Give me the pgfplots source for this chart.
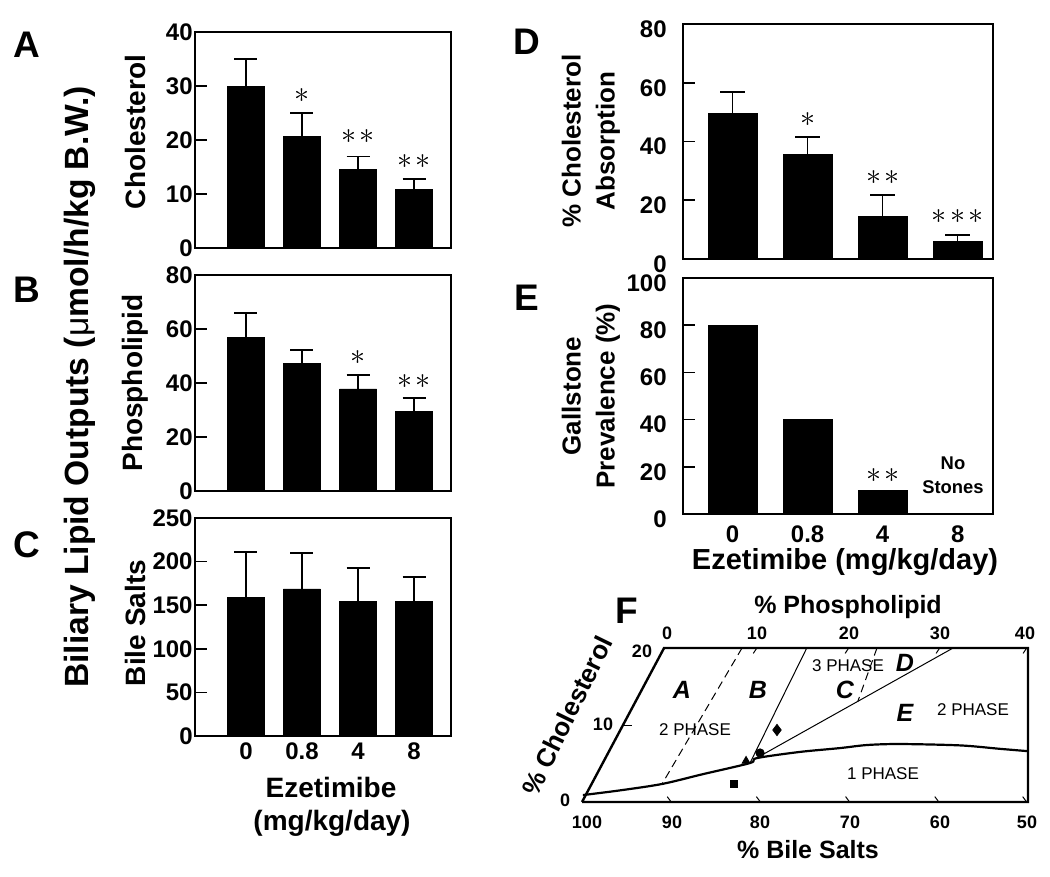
\documentclass[border=0pt]{standalone}
\usepackage{pgfplots}
\pgfplotsset{compat=1.18}
\usepackage{fontspec}
\setmainfont{Liberation Sans}
\newcommand{\st}{\scalebox{1.5}{$\mathord{\ast}$}}
\newcommand{\stt}{\scalebox{1.5}{$\mathord{\ast}\mkern2mu\mathord{\ast}$}}
\newcommand{\sttt}{\scalebox{1.5}{$\mathord{\ast}\mkern2mu\mathord{\ast}\mkern2mu\mathord{\ast}$}}
\begin{document}
\begin{tikzpicture}
\useasboundingbox (0,0) rectangle (525pt,-438.5pt);
\tikzset{star/.style={font=\fontsize{10}{10}\selectfont, inner sep=0pt}}
\pgfplotsset{
  barpanel/.style={
    scale only axis, anchor=south west,
    ybar, bar width=18.5pt, ymin=0,
    xmin=-0.91, xmax=3.66,
    xtick={0,1,2,3}, xticklabels={},
    x tick style={draw=none},
    ytick pos=left, tick align=inside,
    major tick length=6pt,
    y tick style={line width=0.8pt, black},
    axis line style={line width=0.8pt},
    tick label style={font=\fontsize{12}{14}\selectfont\bfseries},
    /pgf/number format/assume math mode=true,
    yticklabel style={inner sep=1pt},
    clip=false,
    error bars/y dir=plus, error bars/y explicit,
    error bars/error mark=|,
    error bars/error bar style={line width=0.7pt, black},
    error bars/error mark options={mark size=5.75pt, line width=0.7pt, black},
  },
}
% ---------- Panel A ----------
\begin{axis}[barpanel, at={(97.5pt,-124pt)}, width=128pt, height=108pt, ymax=40, ytick={0,10,20,30,40}]
\addplot[fill=black, draw=black] coordinates {(0,30.0) +- (0,5.0) (1,20.6) +- (0,4.4) (2,14.6) +- (0,2.3) (3,10.9) +- (0,1.9)};
\node[star] at (axis cs:1,28.3) {\st};
\node[star] at (axis cs:2,20.6) {\stt};
\node[star] at (axis cs:3,16.1) {\stt};
\end{axis}
% ---------- Panel B ----------
\begin{axis}[barpanel, at={(97.5pt,-245.5pt)}, width=128pt, height=108pt, ymax=80, ytick={0,20,40,60,80}]
\addplot[fill=black, draw=black] coordinates {(0,57.0) +- (0,8.9) (1,47.4) +- (0,4.8) (2,37.8) +- (0,5.2) (3,29.6) +- (0,4.8)};
\node[star] at (axis cs:2,49.6) {\st};
\node[star] at (axis cs:3,40.7) {\stt};
\end{axis}
% ---------- Panel C ----------
\begin{axis}[barpanel, at={(97.5pt,-368pt)}, width=128pt, height=109pt, ymax=250, ytick={0,50,100,150,200,250}, xticklabels={0,0.8,4,8}]
\addplot[fill=black, draw=black] coordinates {(0,159.4) +- (0,51.6) (1,168.6) +- (0,41.3) (2,154.8) +- (0,37.9) (3,154.8) +- (0,27.5)};
\end{axis}
% ---------- Panel D ----------
\begin{axis}[barpanel, at={(341.5pt,-129.5pt)}, width=155pt, height=117.5pt, xmin=-0.66, xmax=3.47, bar width=24.5pt, ymax=80, ytick={0,20,40,60,80},
  yticklabel style={inner sep=1pt, xshift=-7pt, yshift=-2.5pt},
  error bars/error mark options={mark size=6.25pt, line width=0.7pt, black}]
\addplot[fill=black, draw=black] coordinates {(0,49.7) +- (0,7.1) (1,35.7) +- (0,5.8) (2,14.6) +- (0,7.2) (3,6.1) +- (0,2.1)};
\node[star] at (axis cs:1,47.6) {\st};
\node[star] at (axis cs:2,27.9) {\stt};
\node[star] at (axis cs:3,14.6) {\sttt};
\end{axis}
% ---------- Panel E ----------
\begin{axis}[barpanel, at={(341.5pt,-257pt)}, width=155pt, height=118pt, xmin=-0.66, xmax=3.47, bar width=24.5pt, ymax=100, ytick={0,20,40,60,80,100},
  yticklabel style={inner sep=1pt, xshift=-7pt, yshift=-2.5pt}, xticklabel style={yshift=-2.5pt}, xticklabels={0,0.8,4,8}]
\addplot[fill=black, draw=black] coordinates {(0,80) (1,40) (2,10)};
\node[star] at (axis cs:2,16.1) {\stt};
\end{axis}
% ---------- Panel F ----------
\begin{axis}[at={(291pt,-401pt)}, anchor=south west, scale only axis, width=223pt, height=77pt,
  xmin=0, xmax=50, ymin=0, ymax=20, hide axis, clip=false]
\addplot[black, line width=1.2pt, line join=miter] coordinates {(0,0) (50,0) (50,20) (9.2,20) (0,0)};
\addplot[black, line width=1.1pt, smooth, tension=0.5] coordinates {(0.1,0.9) (4.2,1.5) (8.97,2.34) (13.5,3.6) (18.83,5.06) (19.6,5.7) (24.4,6.5) (28.9,7.0) (31.95,7.4) (35.65,7.53) (42.4,7.35) (46.9,6.9) (50,6.6)};
\addplot[black, line width=0.5pt, dash pattern=on 4pt off 2.5pt] coordinates {(17.94,20) (8.97,2.34)};
\addplot[black, line width=0.5pt] coordinates {(25.2,20) (18.83,5.06)};
\addplot[black, line width=0.5pt] coordinates {(19.4,5.6) (41.6,20)};
\addplot[black, line width=0.5pt, dash pattern=on 4pt off 2.5pt] coordinates {(33.07,20) (30.9,13.0)};
\addplot[black, line width=0.5pt] coordinates {(10,0) (9.55,0.7)};
\addplot[black, line width=0.5pt] coordinates {(20,0) (19.55,0.7)};
\addplot[black, line width=0.5pt] coordinates {(30,0) (29.55,0.7)};
\addplot[black, line width=0.5pt] coordinates {(40,0) (39.55,0.7)};
\addplot[black, line width=0.5pt] coordinates {(49.85,0) (49.4,0.7)};
\addplot[black, line width=0.5pt] coordinates {(19.6,20) (19.2,19.3)};
\addplot[black, line width=0.5pt] coordinates {(29.9,20) (29.5,19.3)};
\addplot[black, line width=0.5pt] coordinates {(40.1,20) (39.7,19.3)};
\addplot[black, line width=0.5pt] coordinates {(49.85,20) (49.45,19.3)};
\addplot[black, line width=0.5pt] coordinates {(4.6,10) (5.6,10)};
\addplot[only marks, mark=square*, mark size=1.8pt, black] coordinates {(17.04,2.34)};
\addplot[only marks, mark=triangle*, mark size=2.3pt, black] coordinates {(18.39,5.32)};
\addplot[only marks, mark=*, mark size=2.1pt, black] coordinates {(19.96,6.36)};
\addplot[only marks, mark=diamond*, mark size=2.8pt, black] coordinates {(21.86,9.35)};
\end{axis}
% ---------- Texts ----------
\begin{scope}[x=0.5pt, y=-0.5pt]
\tikzset{lab/.style={font=\fontsize{18.5}{18.5}\selectfont\bfseries, inner sep=0pt}}
\node[lab] at (27,45) {A};
\node[lab] at (27,290) {B};
\node[lab] at (27,545) {C};
\node[lab] at (527,42) {D};
\node[lab] at (527,298) {E};
\node[lab] at (627,611) {F};
\tikzset{yl/.style={font=\fontsize{14}{14}\selectfont\bfseries, rotate=90, inner sep=0pt}}
\node[yl] at (135,132) {Cholesterol};
\node[yl] at (135,383) {Phospholipid};
\node[yl] at (135,623) {Bile Salts};
\node[font=\fontsize{16.8}{17}\selectfont\bfseries, rotate=90, inner sep=0pt] at (80,387) {Biliary Lipid Outputs ({\mdseries μ}mol/h/kg B.W.)};
\node[font=\fontsize{14}{17}\selectfont\bfseries] at (331,787) {Ezetimibe};
\node[font=\fontsize{14}{17}\selectfont\bfseries] at (332,823) {(mg/kg/day)};
\node[font=\fontsize{13}{17}\selectfont\bfseries, rotate=90, align=center] at (591,141) {\% Cholesterol\\Absorption};
\node[font=\fontsize{13}{17}\selectfont\bfseries, rotate=90, align=center] at (591,396) {Gallstone\\Prevalence (\%)};
\node[font=\fontsize{14.5}{17}\selectfont\bfseries] at (845,562) {Ezetimibe (mg/kg/day)};
\node[font=\fontsize{9.2}{12}\selectfont\bfseries, align=center] at (953,475) {No\\Stones};
\tikzset{ft/.style={font=\fontsize{9}{9}\selectfont\bfseries, inner sep=0pt}}
\node[font=\fontsize{12.5}{13}\selectfont\bfseries] at (848,607) {\% Phospholipid};
\node[font=\fontsize{12.5}{13}\selectfont\bfseries] at (808,850) {\% Bile Salts};
\node[ft] at (667,633) {0};
\node[ft] at (757,633) {10};
\node[ft] at (849,633) {20};
\node[ft] at (940,633) {30};
\node[ft] at (1025,633) {40};
\node[ft] at (587,822) {100};
\node[ft] at (672,822) {90};
\node[ft] at (760,822) {80};
\node[ft] at (850,822) {70};
\node[ft] at (940,822) {60};
\node[ft] at (1027,822) {50};
\node[ft] at (642,651) {20};
\node[ft] at (603,724) {10};
\node[ft] at (565,800) {0};
\tikzset{fl/.style={font=\fontsize{12.5}{13}\selectfont\bfseries\itshape, inner sep=0pt}}
\node[fl] at (682,690) {A};
\node[fl] at (758,690) {B};
\node[fl] at (845,690) {C};
\node[fl] at (905,663) {D};
\node[fl] at (905,713) {E};
\tikzset{ph/.style={font=\fontsize{8.5}{9}\selectfont, inner sep=0pt}}
\node[ph] at (848,666) {3 PHASE};
\node[ph] at (695,730) {2 PHASE};
\node[ph] at (973,710) {2 PHASE};
\node[ph] at (883,774) {1 PHASE};
\node[font=\fontsize{13}{13}\selectfont\bfseries, rotate=64, inner sep=0pt] at (567,716) {\% Cholesterol};
\end{scope}
\end{tikzpicture}
\end{document}
